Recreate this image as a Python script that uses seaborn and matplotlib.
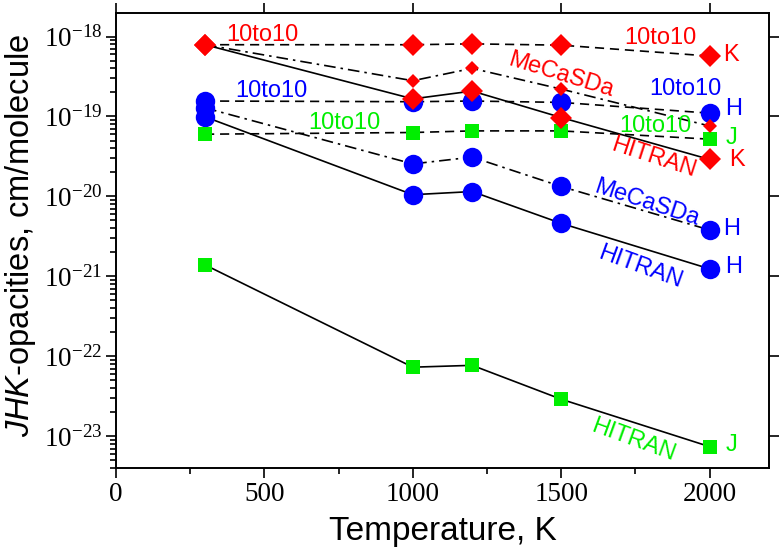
import matplotlib
matplotlib.use("Agg")
import matplotlib.pyplot as plt
import matplotlib.ticker as mticker
import seaborn as sns
import numpy as np

# ---------------- data ----------------
temperature = [300, 1000, 1200, 1500, 2000]

K_10to10 = [7.9e-19, 7.9e-19, 8.1e-19, 7.8e-19, 5.7e-19]
K_mecasda = [7.9e-19, 2.8e-19, 4.0e-19, 2.2e-19, 7.6e-20]
K_hitran = [7.9e-19, 1.66e-19, 2.08e-19, 9.7e-20, 2.9e-20]

H_10to10 = [1.56e-19, 1.53e-19, 1.56e-19, 1.5e-19, 1.1e-19]
H_mecasda = [1.28e-19, 2.55e-20, 3.1e-20, 1.33e-20, 3.8e-21]
H_hitran = [9.9e-20, 1.05e-20, 1.15e-20, 4.6e-21, 1.24e-21]

J_10to10 = [6.0e-20, 6.3e-20, 6.6e-20, 6.6e-20, 5.2e-20]
J_hitran = [1.39e-21, 7.3e-23, 7.7e-23, 2.9e-23, 7.4e-24]

x_ticks = [0, 500, 1000, 1500, 2000]
y_decades = [-23, -22, -21, -20, -19, -18]

RED = "#ff0000"
BLUE = "#0000ff"
GREEN = "#00ee00"

sns.set_theme(style="ticks")
plt.rcParams["font.family"] = ["Liberation Sans", "DejaVu Sans"]
plt.rcParams["mathtext.fontset"] = "custom"
plt.rcParams["mathtext.rm"] = "Liberation Sans"
plt.rcParams["mathtext.it"] = "Liberation Sans:italic"
for key in ["text.color", "axes.labelcolor", "xtick.color", "ytick.color", "axes.edgecolor"]:
    plt.rcParams[key] = "black"

fig = plt.figure(figsize=(7.8, 5.53), dpi=100)
ax = fig.add_axes([116 / 780, 1 - 468 / 553, (769 - 116) / 780, (468 - 13) / 553])
ax.set_yscale("log")

DASH = (0, (5.5, 3.5))
DASHDOT = (0, (7, 3, 1.5, 3))
series = [
    (H_10to10, DASH, "o", 14, BLUE),
    (H_mecasda, DASHDOT, "o", 14, BLUE),
    (H_hitran, "-", "o", 14, BLUE),
    (J_10to10, DASH, "s", 10.5, GREEN),
    (J_hitran, "-", "s", 10.5, GREEN),
    (K_10to10, DASH, "D", 11.5, RED),
    (K_mecasda, DASHDOT, "D", 7.5, RED),
    (K_hitran, "-", "D", 11.5, RED),
]
for vals, ls, mk, ms, col in series:
    sns.lineplot(x=temperature, y=vals, ax=ax, color="black", linestyle=ls,
                 linewidth=1.2, marker=mk, markersize=ms,
                 markerfacecolor=col, markeredgecolor=col,
                 markeredgewidth=0, errorbar=None)

# ---------------- annotations ----------------
fs = 17
notes = [
    ("10to10", 492, 1.04e-18, RED, 0),
    ("10to10", 1835, 9.6e-19, RED, 0),
    ("K", 2071, 5.9e-19, RED, 0),
    ("MeCaSDa", 1500, 3.3e-19, RED, -17),
    ("10to10", 522, 2.08e-19, BLUE, 0),
    ("10to10", 1919, 2.21e-19, BLUE, 0),
    ("H", 2081, 1.24e-19, BLUE, 0),
    ("10to10", 768, 8.3e-20, GREEN, 0),
    ("10to10", 1818, 7.6e-20, GREEN, 0),
    ("J", 2074, 5.4e-20, GREEN, 0),
    ("HITRAN", 1811, 3.0e-20, RED, -18),
    ("K", 2091, 2.86e-20, RED, 0),
    ("MeCaSDa", 1788, 8.3e-21, BLUE, -18),
    ("H", 2074, 3.93e-21, BLUE, 0),
    ("HITRAN", 1768, 1.28e-21, BLUE, -20),
    ("H", 2081, 1.32e-21, BLUE, 0),
    ("HITRAN", 1744, 8.8e-24, GREEN, -20),
    ("J", 2074, 7.8e-24, GREEN, 0),
]
for txt, x, y, col, rot in notes:
    ax.text(x, y, txt, color=col, fontsize=fs, rotation=rot,
            ha="center", va="center", rotation_mode="anchor")

# ---------------- axes ----------------
ymin, ymax = 4.0e-24, 1.97e-18
ax.set_xlim(0, 2200)
ax.set_ylim(ymin, ymax)
ax.set_xticks(x_ticks)
ax.xaxis.set_minor_locator(mticker.FixedLocator([250, 750, 1250, 1750]))

major_y = [10.0 ** d for d in y_decades]
minor_y = [m * 10.0 ** d for d in range(-24, -17) for m in range(2, 10)
           if ymin <= m * 10.0 ** d <= ymax]
ax.yaxis.set_major_locator(mticker.FixedLocator(major_y))
ax.yaxis.set_major_formatter(mticker.FixedFormatter(
    [r"$\mathdefault{10^{%d}}$" % d for d in y_decades]))
ax.yaxis.set_minor_locator(mticker.FixedLocator(minor_y))
ax.yaxis.set_minor_formatter(mticker.NullFormatter())

ax.tick_params(which="both", direction="out", width=1.2, color="black",
               labelcolor="black", labelsize=19.5,
               labelfontfamily="Liberation Serif")
ax.tick_params(which="major", length=7, top=True, right=True)
ax.tick_params(which="minor", length=4, top=False, right=False)
ax.tick_params(axis="x", which="major", pad=3)
ax.tick_params(axis="y", which="major", pad=3)

for sp in ax.spines.values():
    sp.set_linewidth(1.4)
    sp.set_color("black")

ax.set_xlabel("Temperature, K", fontsize=24, color="black")
ax.set_ylabel(r"$\mathit{JHK}$-opacities, cm/molecule", fontsize=23.5, color="black")
ax.xaxis.set_label_coords(0.5, -0.14)
ax.xaxis.label.set_verticalalignment("center")
ax.yaxis.set_label_coords(-0.146, 0.512)
ax.yaxis.label.set_verticalalignment("center")

fig.savefig("out.png", dpi=100)
